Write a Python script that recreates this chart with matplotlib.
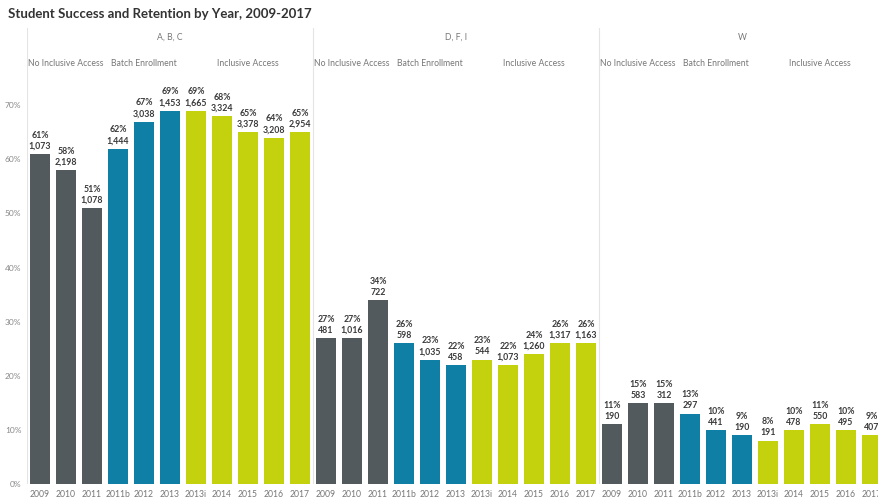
import matplotlib.pyplot as plt
import numpy as np

plt.rcParams["font.family"] = ["Lato", "DejaVu Sans"]

years = ["2009", "2010", "2011", "2011b", "2012", "2013", "2013i", "2014", "2015", "2016", "2017"]
panels = ["A, B, C", "D, F, I", "W"]
phases = ["No Inclusive Access", "Batch Enrollment", "Inclusive Access"]
phase_of_year = [0, 0, 0, 1, 1, 1, 2, 2, 2, 2, 2]

pct_abc = [61, 58, 51, 62, 67, 69, 69, 68, 65, 64, 65]
cnt_abc = [1073, 2198, 1078, 1444, 3038, 1453, 1665, 3324, 3378, 3208, 2954]
pct_dfi = [27, 27, 34, 26, 23, 22, 23, 22, 24, 26, 26]
cnt_dfi = [481, 1016, 722, 598, 1035, 458, 544, 1073, 1260, 1317, 1163]
pct_w = [11, 15, 15, 13, 10, 9, 8, 10, 11, 10, 9]
cnt_w = [190, 583, 312, 297, 441, 190, 191, 478, 550, 495, 407]

phase_colors = ["#535a5d", "#0f7fa5", "#c4d20e"]

pcts = [pct_abc, pct_dfi, pct_w]
cnts = [cnt_abc, cnt_dfi, cnt_w]

fig = plt.figure(figsize=(8.79, 4.98), dpi=100)
ax = fig.add_axes([27 / 879, 14 / 498, 1 - 27 / 879, (484 - 28) / 498])

n = len(years)
ymax = (484 - 28) / 5.41
tick_pos, tick_lab = [], []
for p, name in enumerate(panels):
    x = np.arange(n) + p * n
    cols = [phase_colors[k] for k in phase_of_year]
    ax.bar(x, pcts[p], width=0.77, color=cols)
    for xi, v, c in zip(x, pcts[p], cnts[p]):
        ax.text(xi, v + 0.6, f"{v}%\n{c:,}", ha="center", va="bottom",
                fontsize=6.3, fontweight="bold", color="#3a3a3a", linespacing=1.3)
    tick_pos += list(x)
    tick_lab += years

    # panel header and phase headers
    ax.text(p * n + (n - 1) / 2, (484 - 37) / 5.41, name, ha="center", va="center",
            fontsize=6.2, color="#777777")
    for k, ph in enumerate(phases):
        idx = [i for i in range(n) if phase_of_year[i] == k]
        cx = p * n + (idx[0] + idx[-1]) / 2
        ax.text(cx, (484 - 63) / 5.41, ph, ha="center", va="center",
                fontsize=6.2, color="#777777")

    ax.axvline(p * n - 0.5, color="#e4e4e4", lw=0.8, zorder=0)

ax.set_xlim(-0.5, (879 - 40) / 26)
ax.set_ylim(0, ymax)
ax.set_xticks(tick_pos)
ax.set_xticklabels(tick_lab, fontsize=6.2, color="#777777")
ax.set_yticks(range(0, 80, 10))
ax.set_yticklabels([f"{v}%" for v in range(0, 80, 10)], fontsize=6, color="#888888")
ax.tick_params(length=0, pad=4)
for s in ax.spines.values():
    s.set_visible(False)

fig.text(8 / 879, 1 - 14 / 498, "Student Success and Retention by Year, 2009-2017",
         ha="left", va="center", fontsize=9.5, fontweight="bold", color="#333333")

fig.savefig("out.png", dpi=100)
